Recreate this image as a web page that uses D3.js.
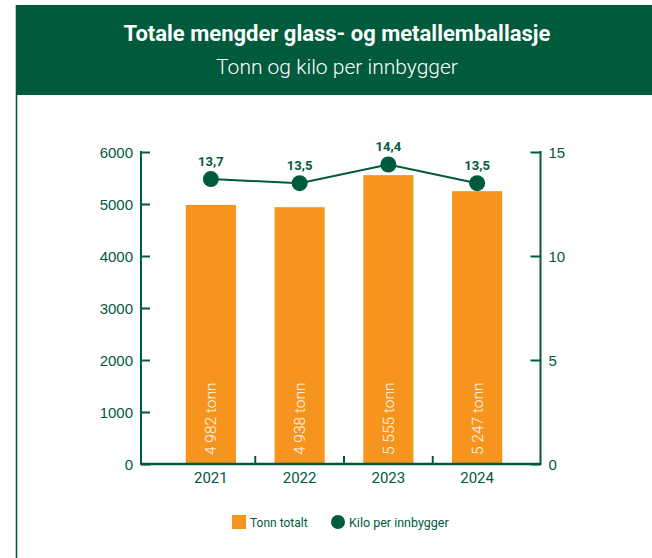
<!DOCTYPE html>
<html>
<head>
<meta charset="utf-8">
<script src="https://cdn.jsdelivr.net/npm/d3@7"></script>
<style>
  html, body { margin: 0; padding: 0; background: #ffffff; }
  svg { display: block; font-family: Roboto, "DejaVu Sans", sans-serif; }
</style>
</head>
<body>
<svg id="chart" width="652" height="558"></svg>
<script>
// Data
const years = ["2021", "2022", "2023", "2024"];
const tonnTotalt = [4982, 4938, 5555, 5247];
const kiloPerInnbygger = [13.7, 13.5, 14.4, 13.5];
const leftTicks = [0, 1000, 2000, 3000, 4000, 5000, 6000];
const rightTicks = [0, 5, 10, 15];

const green = "#005a3c";
const orange = "#f7941d";

const svg = d3.select("#chart");

// Header band
svg.append("rect")
  .attr("x", 16).attr("y", 5).attr("width", 636).attr("height", 90)
  .attr("fill", green);
svg.append("line")
  .attr("x1", 16.5).attr("x2", 16.5).attr("y1", 5).attr("y2", 558)
  .attr("stroke", green).attr("stroke-width", 1.6);

svg.append("text")
  .attr("x", 337).attr("y", 41)
  .attr("text-anchor", "middle")
  .attr("fill", "#ffffff")
  .attr("font-size", 22).attr("font-weight", 700)
  .text("Totale mengder glass- og metallemballasje");
svg.append("text")
  .attr("x", 337).attr("y", 74)
  .attr("text-anchor", "middle")
  .attr("fill", "#ffffff")
  .attr("font-size", 21).attr("font-weight", 300)
  .text("Tonn og kilo per innbygger");

// Scales
const x = d3.scaleBand().domain(years).range([166.5, 521.5]).paddingInner(0.435).paddingOuter(0.2175);
const yL = d3.scaleLinear().domain([0, 6000]).range([464, 152]);
const yR = d3.scaleLinear().domain([0, 15]).range([464, 152]);
const axisLeftX = 141, axisRightX = 540.5;

// Bars
svg.append("g").selectAll("rect")
  .data(years)
  .join("rect")
  .attr("x", d => x(d))
  .attr("width", x.bandwidth())
  .attr("y", (d, i) => yL(tonnTotalt[i]))
  .attr("height", (d, i) => yL(0) - yL(tonnTotalt[i]))
  .attr("fill", orange);

// Bar labels (rotated)
const fmt = v => d3.format(",")(v).replace(/,/g, " ");
svg.append("g").selectAll("text")
  .data(years)
  .join("text")
  .attr("transform", d => `translate(${x(d) + x.bandwidth() / 2 + 5.5},455) rotate(-90)`)
  .attr("fill", "#ffffff")
  .attr("font-size", 15.5).attr("font-weight", 300)
  .text((d, i) => fmt(tonnTotalt[i]) + " tonn");

// Left axis
const gL = svg.append("g").attr("transform", `translate(${axisLeftX},0)`);
gL.call(d3.axisRight(yL).tickValues(leftTicks).tickSize(9).tickFormat(""));
gL.select(".domain").remove();
gL.selectAll(".tick line").attr("stroke", green).attr("stroke-width", 2);
gL.append("line").attr("x1", 0).attr("x2", 0).attr("y1", 151).attr("y2", 465)
  .attr("stroke", green).attr("stroke-width", 2);
gL.selectAll(".tick").append("text")
  .attr("x", -8).attr("dy", "0.36em")
  .attr("text-anchor", "end")
  .attr("fill", green).attr("font-size", 15)
  .text(d => d);

// Right axis
const gR = svg.append("g").attr("transform", `translate(${axisRightX},0)`);
gR.call(d3.axisLeft(yR).tickValues(rightTicks).tickSize(10).tickFormat(""));
gR.select(".domain").remove();
gR.selectAll(".tick line").attr("stroke", green).attr("stroke-width", 2);
gR.append("line").attr("x1", 0).attr("x2", 0).attr("y1", 151).attr("y2", 465)
  .attr("stroke", green).attr("stroke-width", 2);
gR.selectAll(".tick").append("text")
  .attr("x", 8).attr("dy", "0.36em")
  .attr("text-anchor", "start")
  .attr("fill", green).attr("font-size", 15)
  .text(d => d);

// Bottom axis
svg.append("line")
  .attr("x1", axisLeftX).attr("x2", axisRightX).attr("y1", 464).attr("y2", 464)
  .attr("stroke", green).attr("stroke-width", 2.5);
const bounds = years.slice(1).map(d => x(d) - x.step() * x.paddingInner() / 2);
svg.append("g").selectAll("line")
  .data(bounds)
  .join("line")
  .attr("x1", d => d).attr("x2", d => d)
  .attr("y1", 464).attr("y2", 456)
  .attr("stroke", green).attr("stroke-width", 2);
svg.append("g").selectAll("text")
  .data(years)
  .join("text")
  .attr("x", d => x(d) + x.bandwidth() / 2)
  .attr("y", 483)
  .attr("text-anchor", "middle")
  .attr("fill", green).attr("font-size", 15)
  .text(d => d);

// Line series
const cx = d => x(d) + x.bandwidth() / 2;
svg.append("path")
  .datum(years)
  .attr("fill", "none")
  .attr("stroke", green).attr("stroke-width", 2)
  .attr("d", d3.line().x(d => cx(d)).y((d, i) => yR(kiloPerInnbygger[i])));
svg.append("g").selectAll("circle")
  .data(years)
  .join("circle")
  .attr("cx", d => cx(d))
  .attr("cy", (d, i) => yR(kiloPerInnbygger[i]))
  .attr("r", 8)
  .attr("fill", green);
svg.append("g").selectAll("text")
  .data(years)
  .join("text")
  .attr("x", d => cx(d))
  .attr("y", (d, i) => yR(kiloPerInnbygger[i]) - 13)
  .attr("text-anchor", "middle")
  .attr("fill", green).attr("font-size", 13).attr("font-weight", 700)
  .text((d, i) => d3.format(".1f")(kiloPerInnbygger[i]).replace(".", ","));

// Legend
const lg = svg.append("g");
lg.append("rect").attr("x", 232).attr("y", 515).attr("width", 14).attr("height", 14).attr("fill", orange);
lg.append("text").attr("x", 250).attr("y", 526.5).attr("fill", green).attr("font-size", 12).text("Tonn totalt");
lg.append("circle").attr("cx", 338).attr("cy", 522).attr("r", 7).attr("fill", green);
lg.append("text").attr("x", 349).attr("y", 526.5).attr("fill", green).attr("font-size", 12.5).text("Kilo per innbygger");
</script>
</body>
</html>
